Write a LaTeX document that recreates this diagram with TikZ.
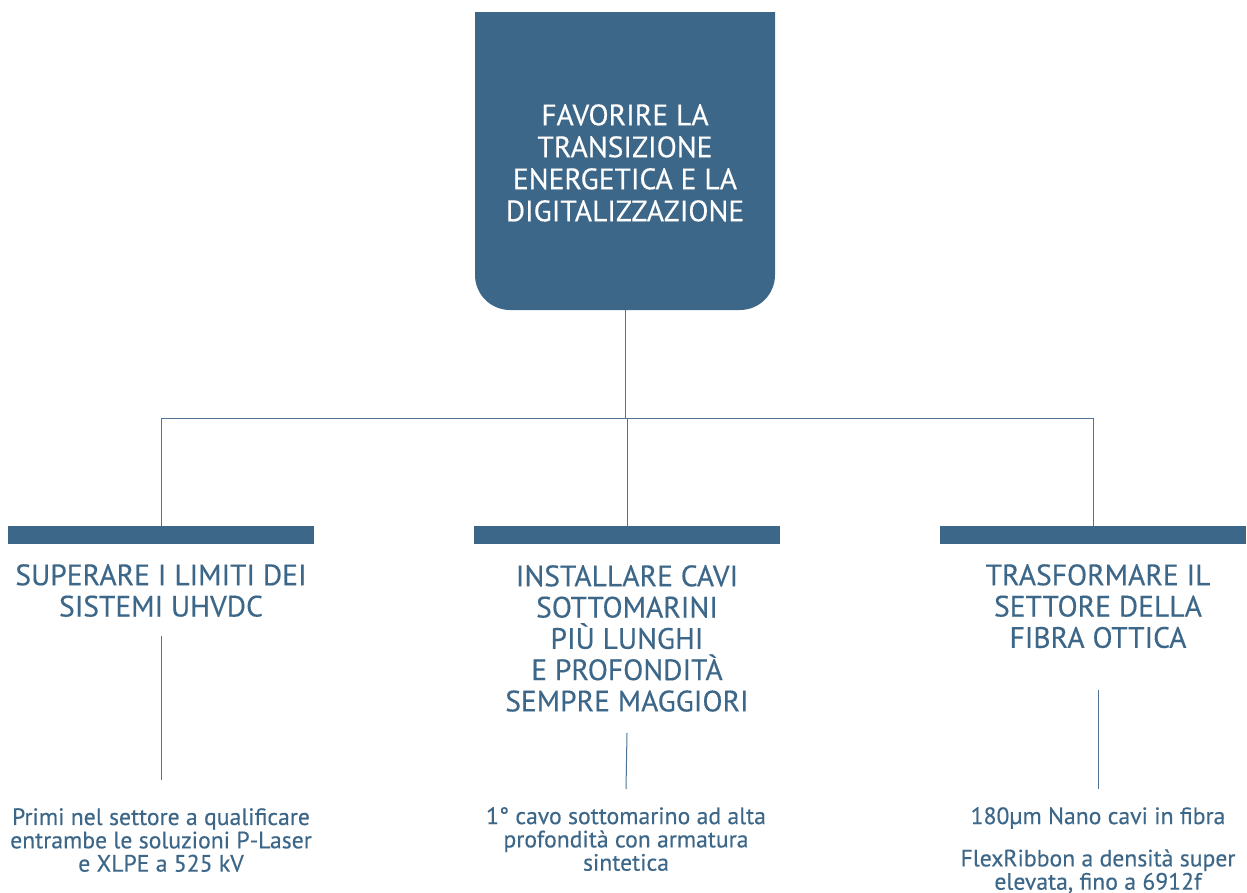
\documentclass[tikz,border=0pt]{standalone}
\usepackage{fontspec}
\setmainfont{PT Sans}[FakeBold=0.35]
\definecolor{pblue}{RGB}{61,103,136}
\definecolor{lblue}{RGB}{78,115,150}
\tikzset{
  conn/.style={draw=lblue, line width=1pt},
  barbox/.style={fill=pblue, minimum width=306pt, minimum height=18pt, inner sep=0pt, outer sep=0pt},
  toptext/.style={text=white, align=center, inner sep=0pt, font=\fontsize{29.5}{32}\selectfont},
  headtext/.style={text=pblue, align=center, inner sep=0pt, anchor=north, font=\fontsize{29.5}{31.3}\selectfont},
  bodytext/.style={text=pblue, align=center, inner sep=0pt, anchor=north, font=\fontsize{23.7}{23.3}\selectfont}
}
\begin{document}
\begin{tikzpicture}[x=1pt,y=-1pt]
\useasboundingbox (0,0) rectangle (1247,892);
% top box
\node[minimum width=300pt, minimum height=298pt, inner sep=0pt, outer sep=0pt] (topbox) at (625,161) {};
\fill[pblue] (topbox.north west) -- (topbox.north east) -- ([yshift=35pt]topbox.south east)
  arc[start angle=0, end angle=90, radius=35] -- ([xshift=35pt]topbox.south west)
  arc[start angle=90, end angle=180, radius=35] -- cycle;
\node[toptext, anchor=north] (toplabel) at (625,104) {FAVORIRE LA\\TRANSIZIONE\\ENERGETICA E LA\\DIGITALIZZAZIONE};
% bars
\node[barbox] (bar1) at (161,535) {};
\node[barbox] (bar2) at (627,535) {};
\node[barbox] (bar3) at (1093,535) {};
% tree connectors
\coordinate (junction) at (625,418);
\draw[conn] (topbox.south) -- (junction);
\draw[conn] (junction) -| (bar1.north);
\draw[conn] (junction) -| (bar3.north);
\draw[conn] (junction) -- (junction -| bar2.north) -- (bar2.north);
% headings
\node[headtext] (h1) at (161,564) {SUPERARE I LIMITI DEI\\SISTEMI UHVDC};
\node[headtext] (h2) at (627,565) {INSTALLARE CAVI\\SOTTOMARINI\\PIÙ LUNGHI\\E PROFONDITÀ\\SEMPRE MAGGIORI};
\node[headtext] (h3) at (1098,564) {TRASFORMARE IL\\SETTORE DELLA\\FIBRA OTTICA};
% body texts
\node[bodytext] (b1) at (161,808) {Primi nel settore a qualificare\\entrambe le soluzioni P-Laser\\e XLPE a 525 kV};
\node[bodytext] (b2) at (626,807) {1° cavo sottomarino ad alta\\profondità con armatura\\sintetica};
\node[bodytext] (b3) at (1098,807) {180µm Nano cavi in fibra\\[19pt]FlexRibbon a densità super\\elevata, fino a 6912f};
% lower connectors
\draw[conn] (h1.south |- 0,636) -- (b1.north |- 0,780);
\draw[conn] (h2.south |- 0,733) -- (b2.north |- 0,789);
\draw[conn] (h3.south |- 0,690) -- (b3.north |- 0,789);
\end{tikzpicture}
\end{document}
